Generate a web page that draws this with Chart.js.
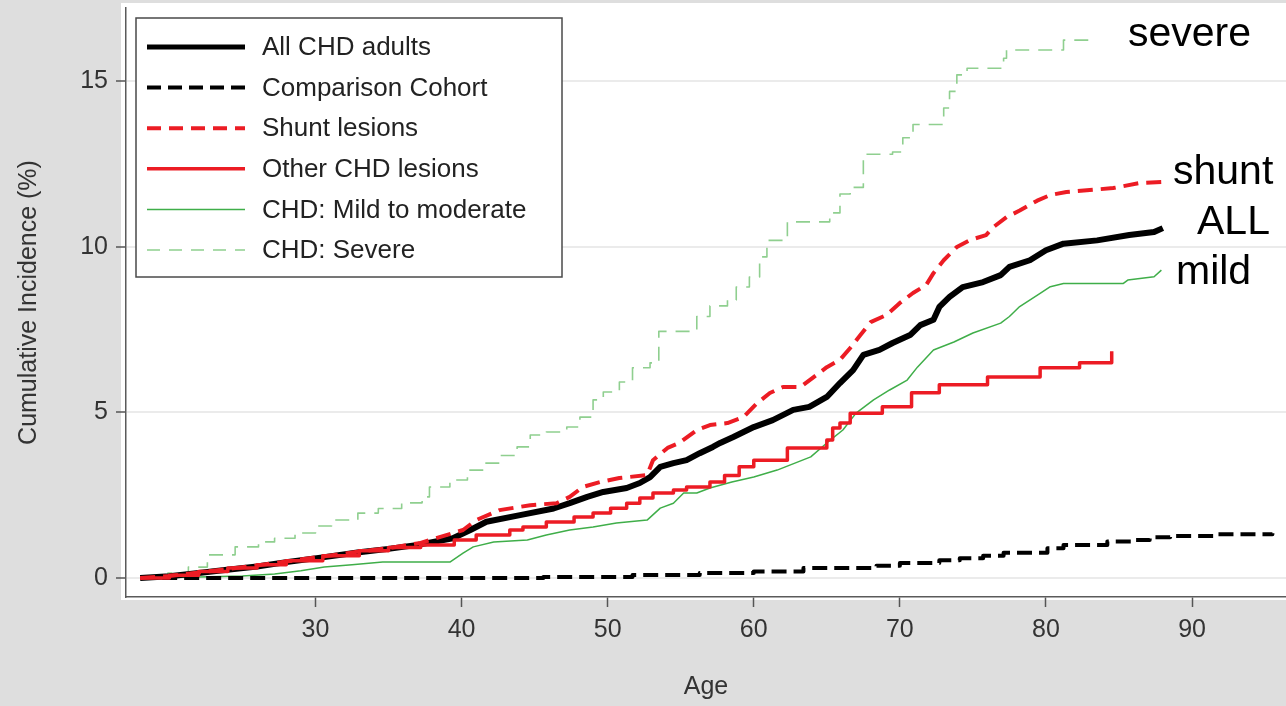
<!DOCTYPE html>
<html>
<head>
<meta charset="utf-8">
<script src="https://cdn.jsdelivr.net/npm/chart.js@4.4.1/dist/chart.umd.min.js"></script>
<style>
  html, body { margin: 0; padding: 0; background: #dedede; }
  #wrap { width: 1286px; height: 706px; position: relative; }
</style>
</head>
<body>
<div id="wrap"><canvas id="c" width="1286" height="706"></canvas></div>
<script>
// ---------------- data ----------------
const seriesLabels = ['All CHD adults', 'Comparison Cohort', 'Shunt lesions', 'Other CHD lesions', 'CHD: Mild to moderate', 'CHD: Severe'];
const endLabels = ['severe', 'shunt', 'ALL', 'mild'];
const xTicks = [30, 40, 50, 60, 70, 80, 90];
const yTicks = [0, 5, 10, 15];

const allAge = [18, 20, 22, 23.8, 26, 28, 30.6, 33, 35, 37, 39.4, 40.6, 41.7, 44, 46.3, 47.4, 48.6, 49.7, 51.3, 52.2, 52.9, 53.6, 54.5, 55.4, 56.3, 57.2, 57.7, 58.6, 60, 61.3, 62.7, 63.8, 65, 65.9, 66.8, 67.5, 68.6, 69.5, 70.7, 71.4, 72.3, 72.7, 73.4, 74.3, 75.7, 76.9, 77.5, 78.9, 80, 81.2, 83.5, 85.7, 87.4, 88];
const allPct = [0, 0.05, 0.15, 0.24, 0.35, 0.48, 0.63, 0.78, 0.88, 1.0, 1.2, 1.45, 1.7, 1.9, 2.1, 2.26, 2.45, 2.6, 2.72, 2.87, 3.05, 3.36, 3.47, 3.56, 3.77, 3.96, 4.08, 4.26, 4.56, 4.77, 5.08, 5.17, 5.47, 5.89, 6.28, 6.74, 6.89, 7.1, 7.34, 7.64, 7.8, 8.19, 8.49, 8.79, 8.94, 9.15, 9.4, 9.6, 9.9, 10.1, 10.2, 10.36, 10.45, 10.57];

const compAge = [18, 45.6, 51.7, 56.3, 60, 63.4, 68.4, 70, 72.7, 74.1, 75.7, 77.1, 80.1, 81.2, 84.2, 86, 87.1, 88.5, 91.7, 95.5];
const compPct = [0, 0.03, 0.09, 0.15, 0.2, 0.3, 0.37, 0.45, 0.54, 0.6, 0.67, 0.76, 0.9, 1.0, 1.1, 1.15, 1.23, 1.27, 1.32, 1.35];

const shuntAge = [18, 20, 22, 24, 26, 28, 30.5, 33, 35, 37.2, 40.1, 41, 42.6, 44.7, 46.5, 47.4, 48.3, 49.5, 50.8, 52.7, 53.1, 54.1, 54.9, 56.1, 57, 58.2, 59.3, 60.2, 61.1, 62, 63.2, 64.1, 65, 65.9, 66.6, 67.3, 68, 69.1, 70, 70.9, 71.8, 72.3, 73, 73.9, 74.8, 75.9, 76.4, 77.3, 78.2, 79.4, 80.3, 81.4, 84.6, 86.4, 87.9];
const shuntPct = [0, 0.06, 0.17, 0.27, 0.38, 0.5, 0.65, 0.8, 0.9, 1.06, 1.45, 1.75, 2.05, 2.2, 2.26, 2.45, 2.75, 2.9, 3.02, 3.11, 3.56, 3.93, 4.08, 4.47, 4.62, 4.68, 4.86, 5.27, 5.59, 5.77, 5.77, 6.07, 6.37, 6.59, 6.95, 7.34, 7.73, 7.95, 8.31, 8.61, 8.85, 9.21, 9.6, 10.0, 10.21, 10.36, 10.6, 10.9, 11.1, 11.4, 11.57, 11.66, 11.78, 11.93, 11.96];

const otherAge = [18, 20, 22, 24, 26, 28, 30.5, 33, 35, 37.2, 39.5, 41, 43.3, 44.2, 45.8, 47.7, 49, 50.2, 51.3, 52.2, 53.1, 54.5, 55.4, 57, 58, 59, 60, 62.3, 65, 65.4, 65.9, 66.6, 68.8, 70.8, 72.7, 76, 79.6, 82.3, 84.5];
const otherPct = [0, 0.08, 0.2, 0.3, 0.4, 0.52, 0.67, 0.82, 0.92, 1.0, 1.15, 1.3, 1.45, 1.54, 1.69, 1.84, 1.96, 2.11, 2.26, 2.42, 2.57, 2.66, 2.75, 2.9, 3.1, 3.36, 3.56, 3.93, 4.17, 4.53, 4.68, 4.98, 5.17, 5.6, 5.84, 6.07, 6.35, 6.5, 6.85];

const mildAge = [18, 22, 25, 27.2, 29, 30.6, 32.5, 34.6, 39.2, 40.1, 40.8, 42.2, 44.5, 45.8, 47.4, 49, 50.6, 52.7, 53.6, 54.5, 55.2, 56.1, 57, 58.5, 60, 61.6, 63.9, 65, 66.1, 67, 68.2, 69.3, 70.5, 71.2, 72.3, 73.7, 75, 76.9, 77.5, 78.2, 79.6, 80.3, 81.2, 85.3, 85.6, 87.4, 87.9];
const mildPct = [0, 0.03, 0.06, 0.12, 0.22, 0.33, 0.4, 0.48, 0.48, 0.75, 0.94, 1.09, 1.15, 1.3, 1.45, 1.54, 1.66, 1.75, 2.11, 2.26, 2.57, 2.57, 2.72, 2.9, 3.05, 3.26, 3.66, 4.08, 4.47, 4.98, 5.38, 5.68, 5.98, 6.37, 6.89, 7.13, 7.4, 7.7, 7.9, 8.2, 8.6, 8.8, 8.9, 8.9, 9.0, 9.1, 9.3];

const severeAge = [18, 19.9, 21.3, 22.6, 24.5, 26.1, 27.2, 28.6, 30, 31.1, 32.9, 34.3, 35.9, 37.3, 37.8, 39.2, 40.4, 41.5, 42.6, 43.8, 44.7, 45.8, 47.2, 48.1, 49, 49.7, 50.8, 51.7, 52.9, 53.5, 56.1, 57, 58.2, 58.8, 59.7, 60.4, 60.9, 62.3, 65.2, 65.9, 66.6, 67.5, 69.5, 70.2, 70.9, 73, 73.4, 73.9, 74.6, 77.1, 77.3, 81.2, 83];
const severePct = [0, 0.15, 0.33, 0.7, 0.94, 1.09, 1.2, 1.36, 1.57, 1.75, 1.96, 2.1, 2.27, 2.45, 2.75, 2.96, 3.26, 3.47, 3.7, 3.96, 4.32, 4.41, 4.56, 4.86, 5.38, 5.62, 5.92, 6.35, 6.5, 7.45, 7.9, 8.22, 8.4, 8.79, 9.09, 9.7, 10.2, 10.76, 11.03, 11.6, 11.8, 12.8, 12.87, 13.3, 13.7, 14.2, 14.7, 15.2, 15.4, 15.7, 15.95, 16.25, 16.3];

// ---------------- build chart ----------------
const FONT = '"Liberation Sans", Arial, Helvetica, sans-serif';
const RED = '#ec1c24';
const pts = (xs, ys) => xs.map((x, i) => ({ x: x, y: ys[i] }));

const datasets = [
  { label: seriesLabels[0], data: pts(allAge, allPct), borderColor: '#000000', borderWidth: 6, borderDash: [], order: 3, stepped: false },
  { label: seriesLabels[1], data: pts(compAge, compPct), borderColor: '#000000', borderWidth: 4, borderDash: [15, 7], order: 4, stepped: true },
  { label: seriesLabels[2], data: pts(shuntAge, shuntPct), borderColor: RED, borderWidth: 4, borderDash: [15, 8], order: 1, stepped: false },
  { label: seriesLabels[3], data: pts(otherAge, otherPct), borderColor: RED, borderWidth: 3.5, borderDash: [], order: 2, stepped: true },
  { label: seriesLabels[4], data: pts(mildAge, mildPct), borderColor: '#3fae49', borderWidth: 1.5, borderDash: [], order: 5, stepped: false },
  { label: seriesLabels[5], data: pts(severeAge, severePct), borderColor: '#8fcf8f', borderWidth: 1.6, borderDash: [14, 9], order: 6, stepped: true }
];
datasets.forEach(d => { d.pointRadius = 0; d.fill = false; d.tension = 0; d.borderJoinStyle = 'round'; });

const panelPlugin = {
  id: 'panel',
  beforeDraw(chart) {
    const ctx = chart.ctx;
    ctx.save();
    ctx.fillStyle = '#dedede';
    ctx.fillRect(0, 0, chart.width, chart.height);
    ctx.fillStyle = '#ffffff';
    ctx.fillRect(121, 3, chart.width - 121, 597);
    ctx.restore();
  }
};

const legendPlugin = {
  id: 'boxLegend',
  afterDraw(chart) {
    const ctx = chart.ctx;
    ctx.save();
    const bx = 136, by = 18, bw = 426, bh = 259;
    ctx.fillStyle = '#ffffff';
    ctx.fillRect(bx, by, bw, bh);
    ctx.strokeStyle = '#4a4a4a';
    ctx.lineWidth = 1.5;
    ctx.strokeRect(bx, by, bw, bh);
    const rowH = 40.6, firstY = 47;
    datasets.forEach((d, i) => {
      const y = firstY + i * rowH;
      ctx.beginPath();
      ctx.setLineDash(d.borderDash.length ? [d.borderDash[0] - 1, d.borderDash[1]] : []);
      ctx.strokeStyle = d.borderColor;
      ctx.lineWidth = Math.min(d.borderWidth, 5);
      ctx.moveTo(147, y);
      ctx.lineTo(245, y);
      ctx.stroke();
      ctx.setLineDash([]);
      ctx.fillStyle = '#222222';
      ctx.font = '26px ' + FONT;
      ctx.textBaseline = 'middle';
      ctx.textAlign = 'left';
      ctx.fillText(d.label, 262, y + 1);
    });
    // end-of-curve annotations
    ctx.fillStyle = '#000000';
    ctx.font = '41px ' + FONT;
    ctx.textBaseline = 'alphabetic';
    const annPos = [[1128, 46], [1173, 184], [1197, 234], [1176, 284]];
    endLabels.forEach((t, i) => ctx.fillText(t, annPos[i][0], annPos[i][1]));
    ctx.restore();
  }
};

new Chart(document.getElementById('c'), {
  type: 'line',
  data: { datasets: datasets },
  options: {
    responsive: false,
    animation: false,
    events: [],
    layout: { padding: { left: 0, right: 0, top: 8, bottom: 0 } },
    plugins: { legend: { display: false }, tooltip: { enabled: false } },
    scales: {
      x: {
        type: 'linear',
        min: 17.03,
        max: 96.43,
        afterBuildTicks: s => { s.ticks = xTicks.map(v => ({ value: v })); },
        afterFit: s => { s.height = 109; s.paddingLeft = 0; s.paddingRight = 0; },
        ticks: { color: '#333333', font: { family: FONT, size: 25 }, padding: 8, maxRotation: 0, autoSkip: false },
        grid: { display: true, drawOnChartArea: false, drawTicks: true, tickLength: 10, tickColor: '#555555', tickWidth: 1.5 },
        border: { display: true, color: '#5a5a5a', width: 1.5 },
        title: { display: true, text: 'Age', color: '#333333', font: { family: FONT, size: 25 }, padding: { top: 0, bottom: 4 } }
      },
      y: {
        type: 'linear',
        min: -0.574,
        max: 17.22,
        afterBuildTicks: s => { s.ticks = yTicks.map(v => ({ value: v })); },
        afterFit: s => { s.width = 126; s.paddingTop = 0; s.paddingBottom = 0; },
        ticks: { color: '#333333', font: { family: FONT, size: 25 }, padding: 8 },
        grid: { display: true, color: '#ebebeb', lineWidth: 2, drawTicks: true, tickLength: 10, tickColor: '#555555', tickWidth: 1.5 },
        border: { display: true, color: '#5a5a5a', width: 1.5 },
        title: { display: true, text: 'Cumulative Incidence (%)', color: '#333333', font: { family: FONT, size: 25 }, padding: { top: 14, bottom: 0 } }
      }
    }
  },
  plugins: [panelPlugin, legendPlugin]
});
</script>
</body>
</html>
